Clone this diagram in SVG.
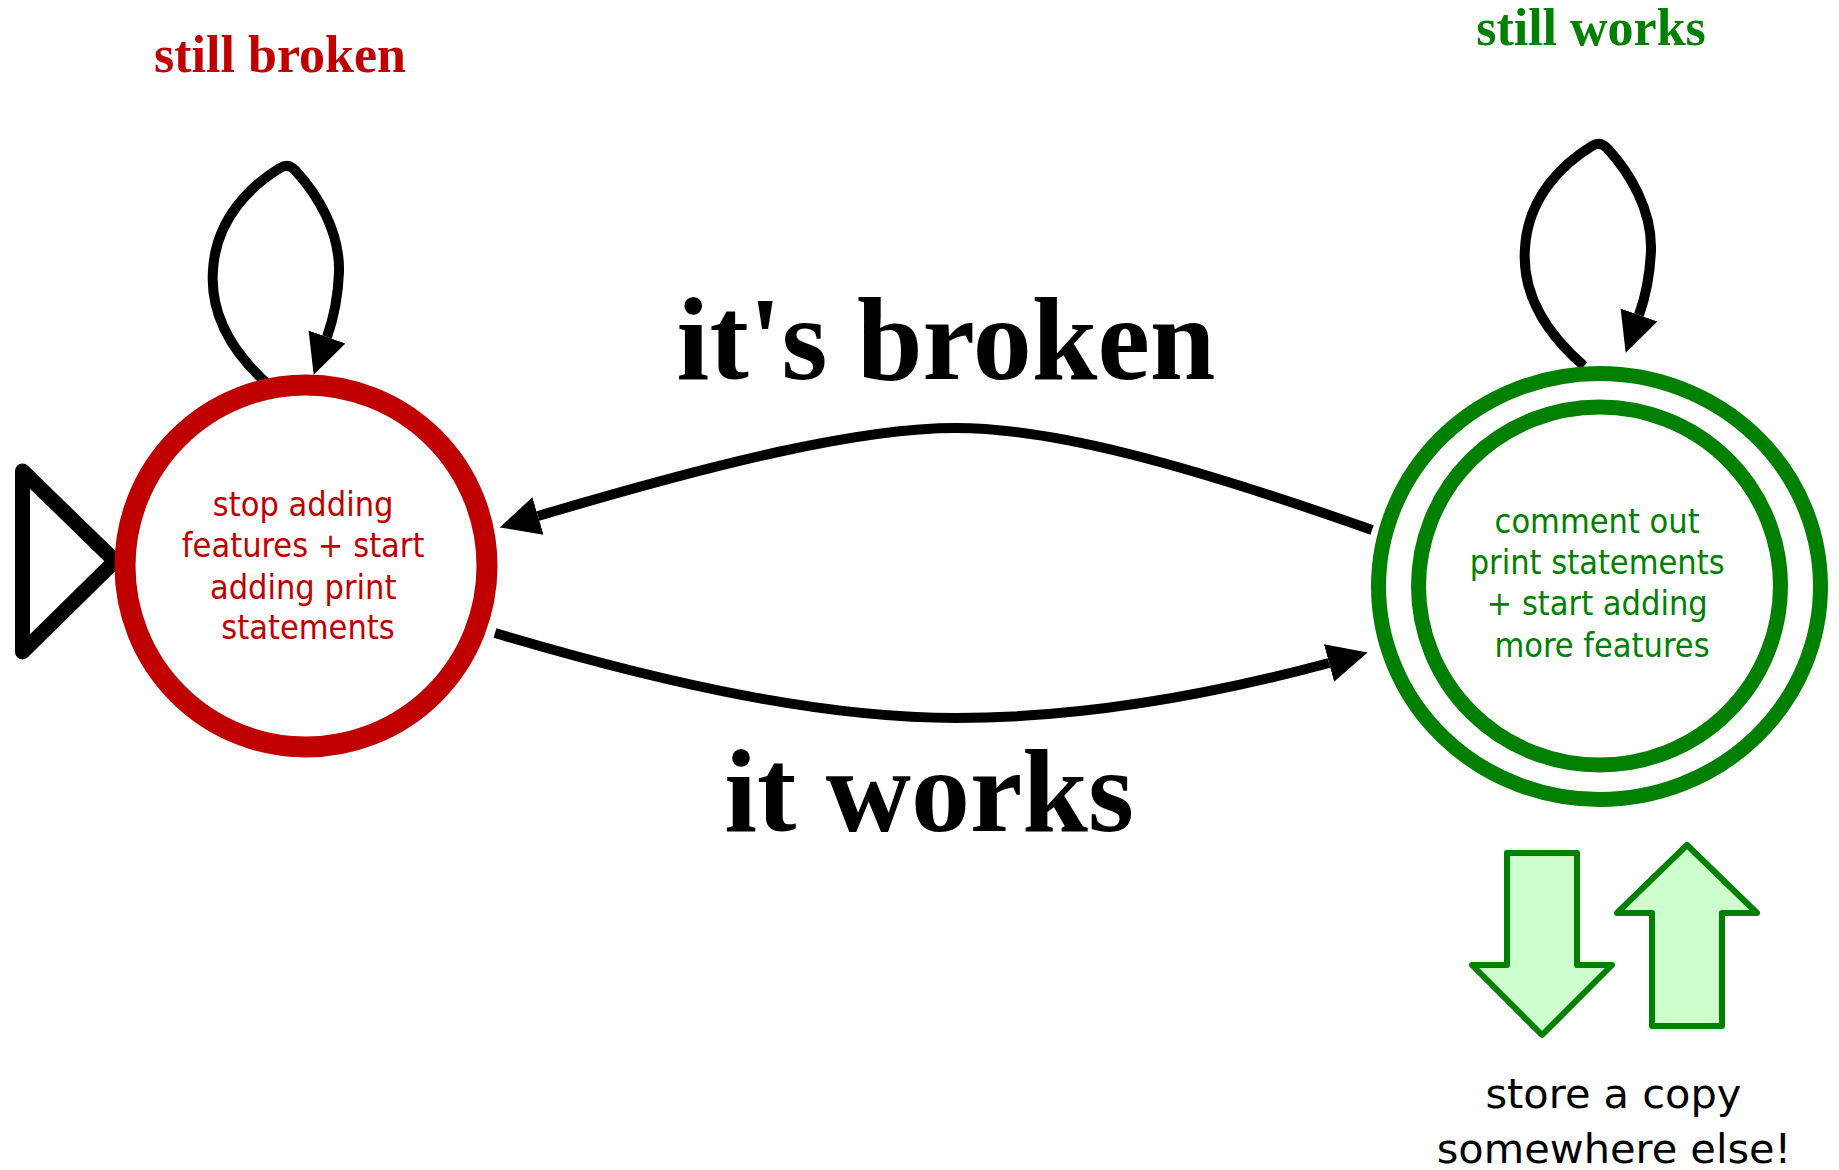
<svg xmlns="http://www.w3.org/2000/svg" width="1839" height="1170" viewBox="0 0 1839 1170">
  <style>
    .bg { fill: #ffffff; }
    .conn { fill: none; stroke: #000000; stroke-width: 10; stroke-linejoin: round; }
    .state-text { font-family: "DejaVu Sans Condensed", "DejaVu Sans", sans-serif; font-size: 34px; text-anchor: middle; }
    .red { fill: #c00000; }
    .green { fill: #008000; }
    .big { font-family: "Liberation Serif", "Times New Roman", serif; font-weight: bold; text-anchor: middle; fill: #000000; }
    .loop-label { font-family: "Liberation Serif", "Times New Roman", serif; font-weight: bold; font-size: 52px; text-anchor: middle; }
    .note { font-family: "DejaVu Sans", sans-serif; font-size: 41.5px; text-anchor: middle; fill: #000000; }
    .copy-arrow { fill: #ccffcc; stroke: #008000; stroke-width: 6; stroke-linejoin: round; }
  </style>
  <defs>
    <marker id="arrow" markerUnits="userSpaceOnUse" markerWidth="42" markerHeight="42" viewBox="0 -21 42 42" refX="0" refY="0" orient="auto">
      <path d="M0,-19.5 L40,0 L0,19.5 Z" fill="#000000"/>
    </marker>
  </defs>
  <rect class="bg" x="0" y="0" width="1839" height="1170"/>

  <g id="connectors">
    <path id="loop-broken" class="conn" d="M 272 388 C 228 350, 210 310, 213 270 C 216 218, 252 185, 280 168 Q 288 163, 295 170 C 318 195, 340 232, 339 272 C 338 300, 333 320, 327 337" marker-end="url(#arrow)"/>
    <path id="loop-works" class="conn" d="M 1584 366 C 1540 328, 1522 288, 1525 248 C 1528 196, 1564 163, 1592 146 Q 1600 141, 1607 148 C 1630 173, 1652 210, 1651 250 C 1650 278, 1645 298, 1639 315" marker-end="url(#arrow)"/>
    <path id="edge-its-broken" class="conn" d="M 1372 530 C 1180 462, 1050 428, 956 428 C 860 428, 720 462, 538 516" marker-end="url(#arrow)"/>
    <path id="edge-it-works" class="conn" d="M 495 633 C 680 688, 830 718, 956 718 C 1080 718, 1210 695, 1329 663" marker-end="url(#arrow)"/>
  </g>

  <g id="start-marker">
    <polygon points="22.5,471 22.5,652 115,561" fill="none" stroke="#000000" stroke-width="15" stroke-linejoin="round"/>
  </g>

  <g id="node-broken">
    <circle cx="306" cy="566" r="181" fill="#ffffff" stroke="#c00000" stroke-width="21"/>
    <text class="state-text red">
      <tspan x="308" y="516">stop adding</tspan>
      <tspan x="308" y="557">features + start</tspan>
      <tspan x="308" y="599">adding print</tspan>
      <tspan x="308" y="639">statements</tspan>
    </text>
  </g>

  <g id="node-works">
    <ellipse cx="1599.5" cy="586.5" rx="221" ry="213" fill="#ffffff" stroke="#008000" stroke-width="15"/>
    <ellipse cx="1599.5" cy="586" rx="181" ry="179" fill="none" stroke="#008000" stroke-width="15"/>
    <text class="state-text green" font-size="35">
      <tspan x="1602" y="533">comment out</tspan>
      <tspan x="1602" y="574">print statements</tspan>
      <tspan x="1602" y="615">+ start adding</tspan>
      <tspan x="1602" y="657">more features</tspan>
    </text>
  </g>

  <g id="labels">
    <text class="loop-label red" x="280" y="72">still broken</text>
    <text class="loop-label green" x="1591" y="45">still works</text>
    <text class="big" x="946" y="379" font-size="118">it's broken</text>
    <text class="big" x="929" y="831" font-size="118">it works</text>
  </g>

  <g id="copy-note">
    <polygon class="copy-arrow" points="1507,853 1577,853 1577,965 1612,965 1542,1035 1472,965 1507,965"/>
    <polygon class="copy-arrow" points="1687,845 1757,913 1722,913 1722,1026 1652,1026 1652,913 1617,913"/>
    <text class="note">
      <tspan x="1620" y="1108">store a copy</tspan>
      <tspan x="1614" y="1163">somewhere else!</tspan>
    </text>
  </g>
</svg>
